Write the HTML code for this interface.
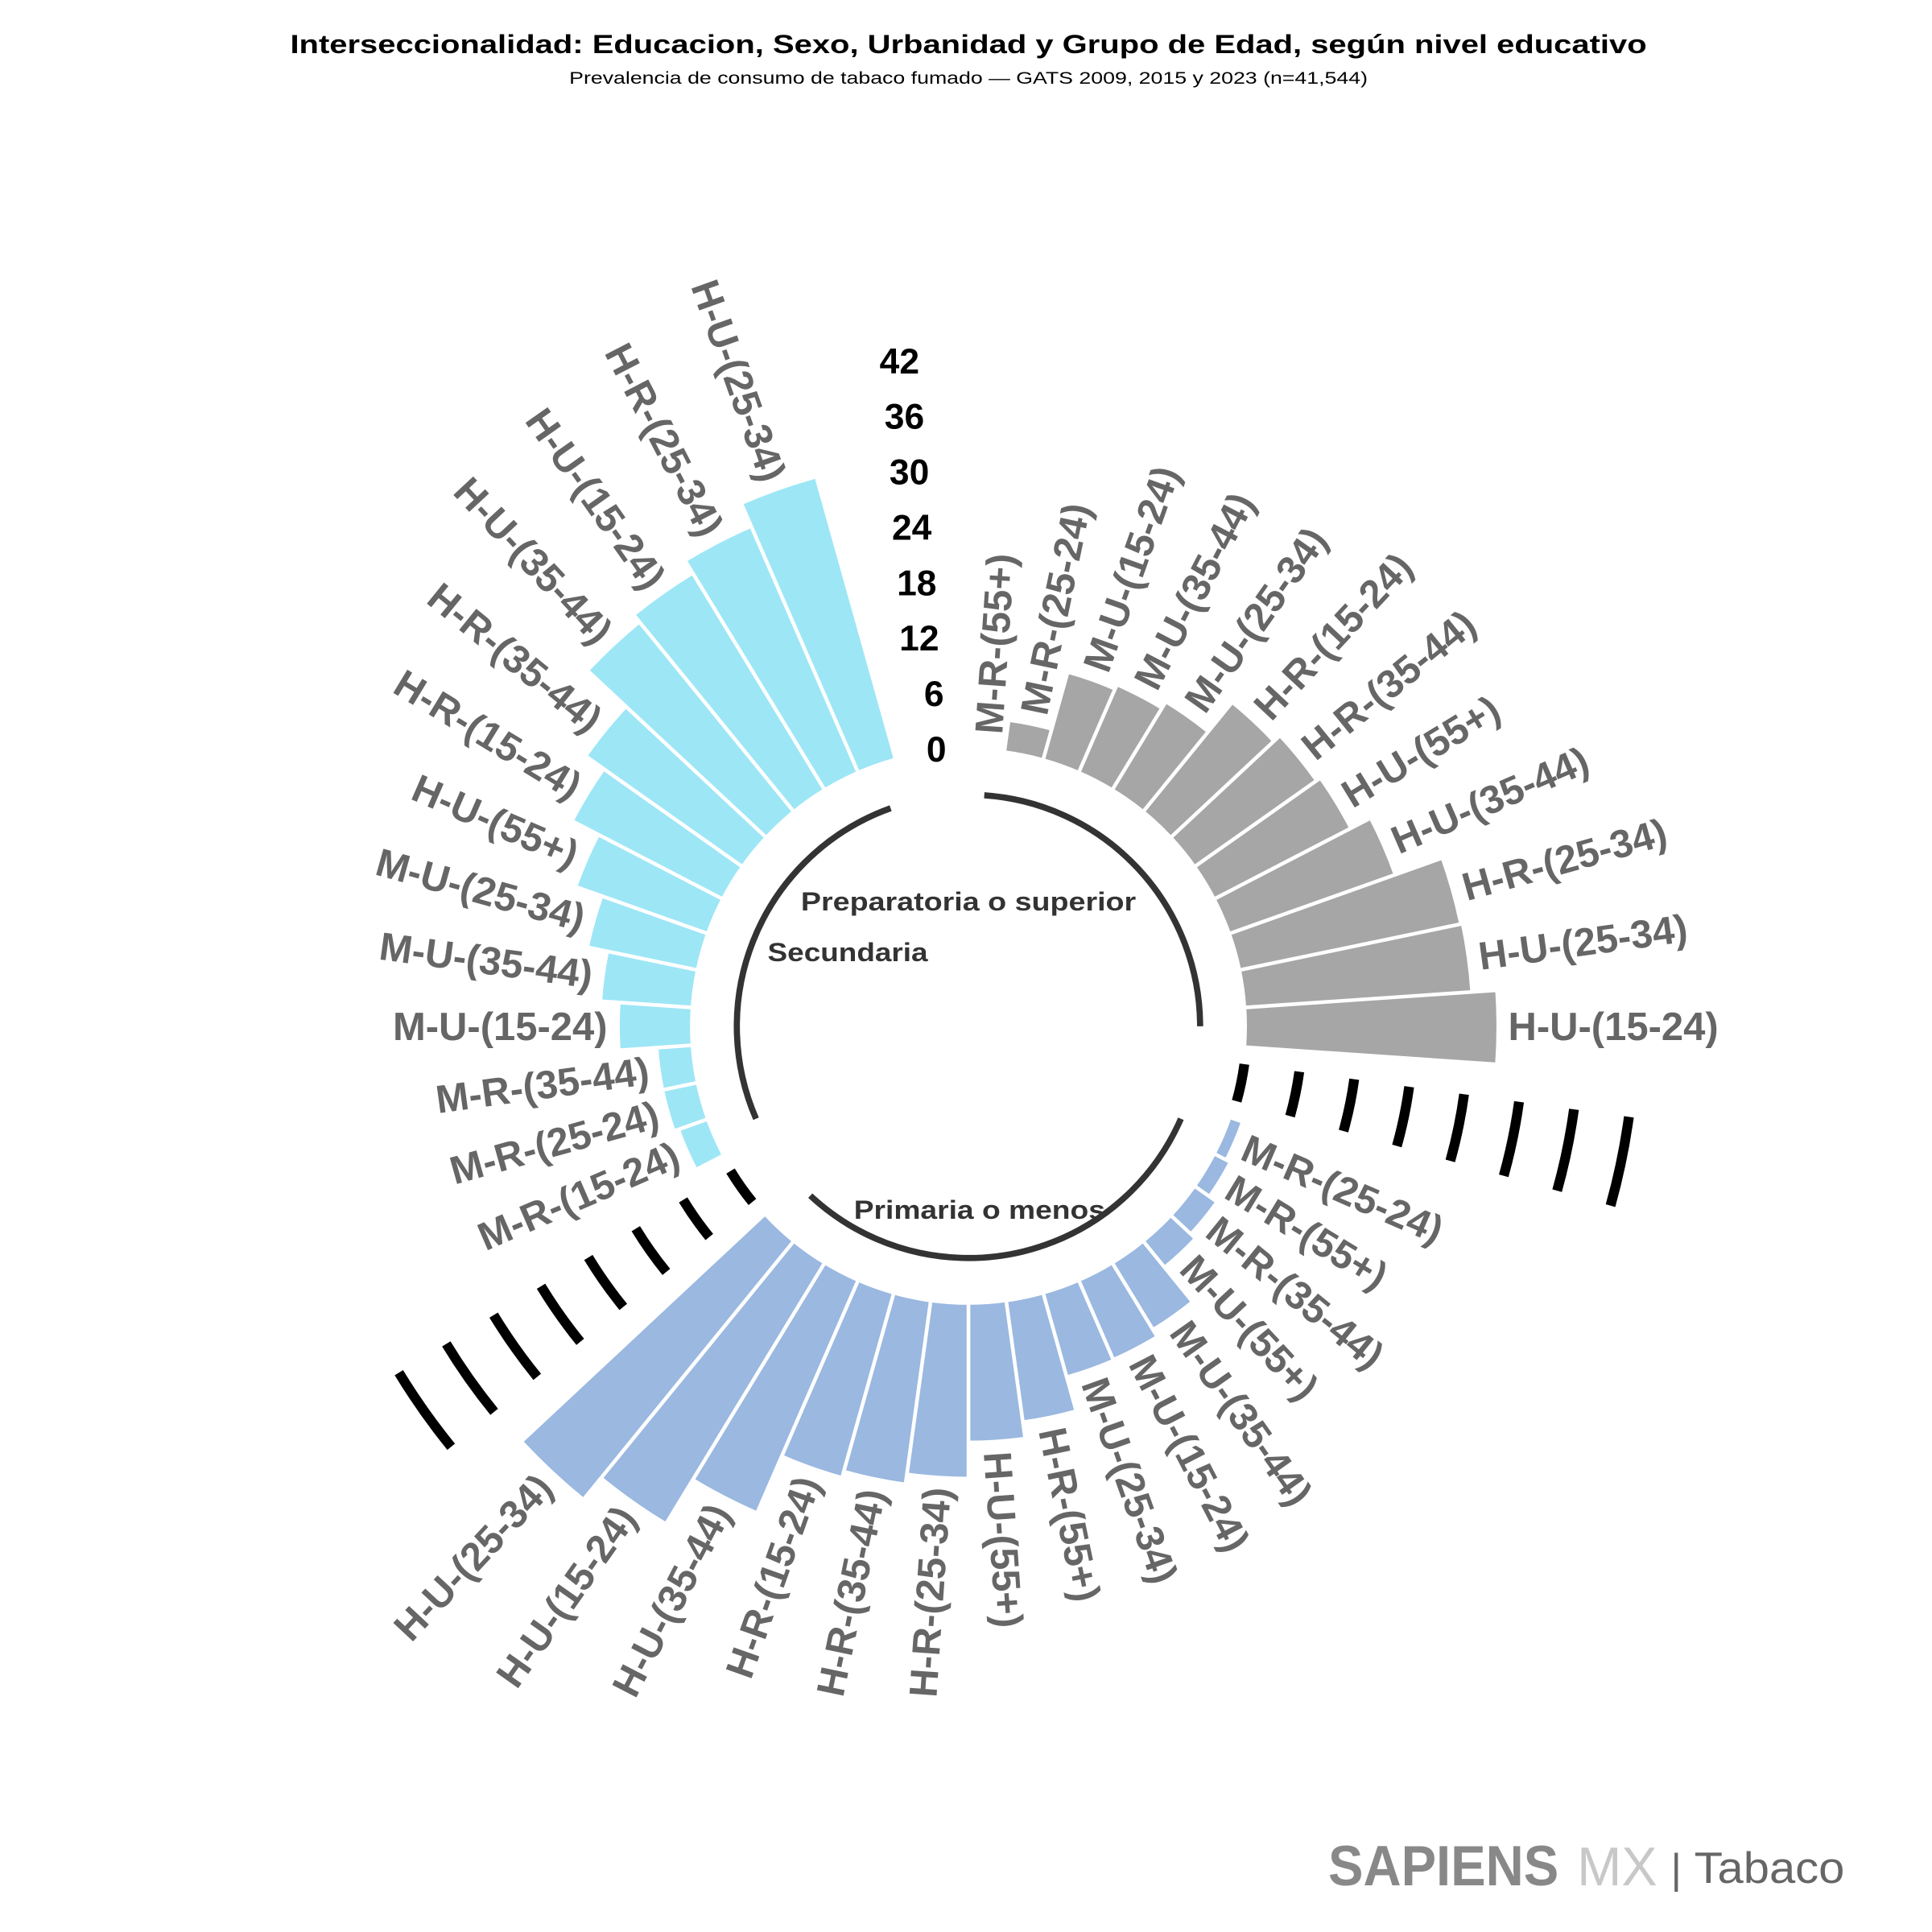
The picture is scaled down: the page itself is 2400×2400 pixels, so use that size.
<!DOCTYPE html>
<html><head><meta charset="utf-8"><style>
html,body{margin:0;padding:0;background:#fff}
svg{display:block}
text{font-family:"Liberation Sans",Arial,sans-serif}
.lab{font-size:32px;font-weight:bold;fill:#666}
.sc{font-size:29px;font-weight:bold;fill:#000}
.grp{font-size:21px;font-weight:bold;fill:#333}
</style></head><body>
<svg xmlns="http://www.w3.org/2000/svg" width="2400" height="2400" viewBox="0 0 1568 1568">
<rect width="1568" height="1568" fill="#fff"/>
<text x="786" y="43" text-anchor="middle" font-size="21" font-weight="bold" textLength="1101" lengthAdjust="spacingAndGlyphs">Interseccionalidad: Educacion, Sexo, Urbanidad y Grupo de Edad, según nivel educativo</text>
<text x="786" y="68" text-anchor="middle" font-size="14" textLength="648" lengthAdjust="spacingAndGlyphs">Prevalencia de consumo de tabaco fumado — GATS 2009, 2015 y 2023 (n=41,544)</text>

<g transform="translate(786,833)" fill="none">
<g stroke="#a6a6a6">
<circle r="237.6" stroke-width="23.25" pathLength="360" stroke-dasharray="7.826 400" transform="rotate(-82.17)"/>
<circle r="261.6" stroke-width="71.25" pathLength="360" stroke-dasharray="7.826 400" transform="rotate(-74.35)"/>
<circle r="263.5" stroke-width="75" pathLength="360" stroke-dasharray="7.826 400" transform="rotate(-66.52)"/>
<circle r="266.5" stroke-width="81" pathLength="360" stroke-dasharray="7.826 400" transform="rotate(-58.70)"/>
<circle r="281.9" stroke-width="111.75" pathLength="360" stroke-dasharray="7.826 400" transform="rotate(-50.87)"/>
<circle r="285.25" stroke-width="118.5" pathLength="360" stroke-dasharray="7.826 400" transform="rotate(-43.04)"/>
<circle r="287.1" stroke-width="122.25" pathLength="360" stroke-dasharray="7.826 400" transform="rotate(-35.22)"/>
<circle r="296.1" stroke-width="140.25" pathLength="360" stroke-dasharray="7.826 400" transform="rotate(-27.39)"/>
<circle r="316.4" stroke-width="180.75" pathLength="360" stroke-dasharray="7.826 400" transform="rotate(-19.57)"/>
<circle r="317.1" stroke-width="182.25" pathLength="360" stroke-dasharray="7.826 400" transform="rotate(-11.74)"/>
<circle r="327.25" stroke-width="202.5" pathLength="360" stroke-dasharray="7.826 400" transform="rotate(-3.91)"/>
</g>
<g stroke="#9ab8e0">
<circle r="230.1" stroke-width="8.25" pathLength="360" stroke-dasharray="7.826 400" transform="rotate(19.56)"/>
<circle r="232" stroke-width="12" pathLength="360" stroke-dasharray="7.826 400" transform="rotate(27.39)"/>
<circle r="235.75" stroke-width="19.5" pathLength="360" stroke-dasharray="7.826 400" transform="rotate(35.22)"/>
<circle r="238.4" stroke-width="24.75" pathLength="360" stroke-dasharray="7.826 400" transform="rotate(43.04)"/>
<circle r="256.4" stroke-width="60.75" pathLength="360" stroke-dasharray="7.826 400" transform="rotate(50.87)"/>
<circle r="259.75" stroke-width="67.5" pathLength="360" stroke-dasharray="7.826 400" transform="rotate(58.69)"/>
<circle r="260.1" stroke-width="68.25" pathLength="360" stroke-dasharray="7.826 400" transform="rotate(66.52)"/>
<circle r="274.4" stroke-width="96.75" pathLength="360" stroke-dasharray="7.826 400" transform="rotate(74.35)"/>
<circle r="281.1" stroke-width="110.25" pathLength="360" stroke-dasharray="7.826 400" transform="rotate(82.17)"/>
<circle r="295.75" stroke-width="139.5" pathLength="360" stroke-dasharray="7.826 400" transform="rotate(90)"/>
<circle r="299.9" stroke-width="147.75" pathLength="360" stroke-dasharray="7.826 400" transform="rotate(97.83)"/>
<circle r="302.5" stroke-width="153" pathLength="360" stroke-dasharray="7.826 400" transform="rotate(105.65)"/>
<circle r="327.6" stroke-width="203.25" pathLength="360" stroke-dasharray="7.826 400" transform="rotate(113.48)"/>
<circle r="348.6" stroke-width="245.25" pathLength="360" stroke-dasharray="7.826 400" transform="rotate(121.3)"/>
<circle r="359.9" stroke-width="267.75" pathLength="360" stroke-dasharray="7.826 400" transform="rotate(129.13)"/>
</g>
<g stroke="#9de6f6">
<circle r="237.25" stroke-width="22.5" pathLength="360" stroke-dasharray="7.826 400" transform="rotate(152.61)"/>
<circle r="239.1" stroke-width="26.25" pathLength="360" stroke-dasharray="7.826 400" transform="rotate(160.43)"/>
<circle r="239.1" stroke-width="26.25" pathLength="360" stroke-dasharray="7.826 400" transform="rotate(168.26)"/>
<circle r="254.5" stroke-width="57" pathLength="360" stroke-dasharray="7.826 400" transform="rotate(176.09)"/>
<circle r="262" stroke-width="72" pathLength="360" stroke-dasharray="7.826 400" transform="rotate(183.91)"/>
<circle r="270.25" stroke-width="88.5" pathLength="360" stroke-dasharray="7.826 400" transform="rotate(191.74)"/>
<circle r="281.5" stroke-width="111" pathLength="360" stroke-dasharray="7.826 400" transform="rotate(199.57)"/>
<circle r="293.5" stroke-width="135" pathLength="360" stroke-dasharray="7.826 400" transform="rotate(207.39)"/>
<circle r="302.5" stroke-width="153" pathLength="360" stroke-dasharray="7.826 400" transform="rotate(215.22)"/>
<circle r="323.9" stroke-width="195.75" pathLength="360" stroke-dasharray="7.826 400" transform="rotate(223.04)"/>
<circle r="327.6" stroke-width="203.25" pathLength="360" stroke-dasharray="7.826 400" transform="rotate(230.87)"/>
<circle r="333.6" stroke-width="215.25" pathLength="360" stroke-dasharray="7.826 400" transform="rotate(238.69)"/>
<circle r="343.75" stroke-width="235.5" pathLength="360" stroke-dasharray="7.826 400" transform="rotate(246.52)"/>
</g>
<g stroke="#fff" stroke-width="3">
<line x1="220" x2="560" transform="rotate(-74.35)"/>
<line x1="220" x2="560" transform="rotate(-66.52)"/><line x1="220" x2="560" transform="rotate(-58.70)"/>
<line x1="220" x2="560" transform="rotate(-50.87)"/><line x1="220" x2="560" transform="rotate(-43.04)"/>
<line x1="220" x2="560" transform="rotate(-35.22)"/><line x1="220" x2="560" transform="rotate(-27.39)"/>
<line x1="220" x2="560" transform="rotate(-19.57)"/><line x1="220" x2="560" transform="rotate(-11.74)"/>
<line x1="220" x2="560" transform="rotate(-3.91)"/>
<line x1="220" x2="600" transform="rotate(27.39)"/><line x1="220" x2="600" transform="rotate(35.22)"/>
<line x1="220" x2="600" transform="rotate(43.04)"/><line x1="220" x2="600" transform="rotate(50.87)"/>
<line x1="220" x2="600" transform="rotate(58.69)"/><line x1="220" x2="600" transform="rotate(66.52)"/>
<line x1="220" x2="600" transform="rotate(74.35)"/><line x1="220" x2="600" transform="rotate(82.17)"/>
<line x1="220" x2="600" transform="rotate(90)"/><line x1="220" x2="600" transform="rotate(97.83)"/>
<line x1="220" x2="600" transform="rotate(105.65)"/><line x1="220" x2="600" transform="rotate(113.48)"/>
<line x1="220" x2="600" transform="rotate(121.3)"/><line x1="220" x2="600" transform="rotate(129.13)"/>
<line x1="220" x2="600" transform="rotate(160.43)"/><line x1="220" x2="600" transform="rotate(168.26)"/>
<line x1="220" x2="600" transform="rotate(176.09)"/><line x1="220" x2="600" transform="rotate(183.91)"/>
<line x1="220" x2="600" transform="rotate(191.74)"/><line x1="220" x2="600" transform="rotate(199.57)"/>
<line x1="220" x2="600" transform="rotate(207.39)"/><line x1="220" x2="600" transform="rotate(215.22)"/>
<line x1="220" x2="600" transform="rotate(223.04)"/><line x1="220" x2="600" transform="rotate(230.87)"/>
<line x1="220" x2="600" transform="rotate(238.69)"/><line x1="220" x2="600" transform="rotate(246.52)"/>
</g>
<g stroke="#000" stroke-width="8">
<g transform="rotate(7.8)">
<circle r="226" pathLength="360" stroke-dasharray="7.8 400"/><circle r="271" pathLength="360" stroke-dasharray="7.8 400"/>
<circle r="316" pathLength="360" stroke-dasharray="7.8 400"/><circle r="361" pathLength="360" stroke-dasharray="7.8 400"/>
<circle r="406" pathLength="360" stroke-dasharray="7.8 400"/><circle r="451" pathLength="360" stroke-dasharray="7.8 400"/>
<circle r="496" pathLength="360" stroke-dasharray="7.8 400"/><circle r="541" pathLength="360" stroke-dasharray="7.8 400"/>
</g>
<g transform="rotate(140.9)">
<circle r="226" pathLength="360" stroke-dasharray="7.8 400"/><circle r="271" pathLength="360" stroke-dasharray="7.8 400"/>
<circle r="316" pathLength="360" stroke-dasharray="7.8 400"/><circle r="361" pathLength="360" stroke-dasharray="7.8 400"/>
<circle r="406" pathLength="360" stroke-dasharray="7.8 400"/><circle r="451" pathLength="360" stroke-dasharray="7.8 400"/>
<circle r="496" pathLength="360" stroke-dasharray="7.8 400"/><circle r="541" pathLength="360" stroke-dasharray="7.8 400"/>
</g>
</g>
<g stroke="#333" stroke-width="5">
<circle r="188" pathLength="360" stroke-dasharray="86.09 400" transform="rotate(-86.09)"/>
<circle r="188" pathLength="360" stroke-dasharray="109.6 400" transform="rotate(23.5)"/>
<circle r="188" pathLength="360" stroke-dasharray="93.9 400" transform="rotate(156.5)"/>
</g>
<g class="lab" fill="#666">
<text transform="rotate(-86.09)" x="238" dy="0.35em">M-R-(55+)</text>
<text transform="rotate(-78.26)" x="259" dy="0.35em">M-R-(25-24)</text>
<text transform="rotate(-70.43)" x="307" dy="0.35em">M-U-(15-24)</text>
<text transform="rotate(-62.61)" x="311" dy="0.35em">M-U-(35-44)</text>
<text transform="rotate(-54.78)" x="317" dy="0.35em">M-U-(25-34)</text>
<text transform="rotate(-46.96)" x="348" dy="0.35em">H-R-(15-24)</text>
<text transform="rotate(-39.13)" x="354" dy="0.35em">H-R-(35-44)</text>
<text transform="rotate(-31.31)" x="358" dy="0.35em">H-U-(55+)</text>
<text transform="rotate(-23.48)" x="376" dy="0.35em">H-U-(35-44)</text>
<text transform="rotate(-15.66)" x="417" dy="0.35em">H-R-(25-34)</text>
<text transform="rotate(-7.83)" x="418" dy="0.35em">H-U-(25-34)</text>
<text transform="rotate(0)" x="438" dy="0.35em">H-U-(15-24)</text>

<text transform="rotate(23.48)" x="244" dy="0.35em">M-R-(25-24)</text>
<text transform="rotate(31.30)" x="248" dy="0.35em">M-R-(55+)</text>
<text transform="rotate(39.13)" x="255" dy="0.35em">M-R-(35-44)</text>
<text transform="rotate(46.96)" x="261" dy="0.35em">M-U-(55+)</text>
<text transform="rotate(54.78)" x="297" dy="0.35em">M-U-(35-44)</text>
<text transform="rotate(62.61)" x="303" dy="0.35em">M-U-(15-24)</text>
<text transform="rotate(70.43)" x="304" dy="0.35em">M-U-(25-34)</text>
<text transform="rotate(78.26)" x="333" dy="0.35em">H-R-(55+)</text>
<text transform="rotate(86.09)" x="346" dy="0.35em">H-U-(55+)</text>
<text transform="rotate(273.91)" x="-375" dy="0.35em" text-anchor="end">H-R-(25-34)</text>
<text transform="rotate(281.74)" x="-384" dy="0.35em" text-anchor="end">H-R-(35-44)</text>
<text transform="rotate(289.56)" x="-389" dy="0.35em" text-anchor="end">H-R-(15-24)</text>
<text transform="rotate(297.39)" x="-439" dy="0.35em" text-anchor="end">H-U-(35-44)</text>
<text transform="rotate(305.22)" x="-481" dy="0.35em" text-anchor="end">H-U-(15-24)</text>
<text transform="rotate(313.04)" x="-504" dy="0.35em" text-anchor="end">H-U-(25-34)</text>

<text transform="rotate(336.52)" x="-258" dy="0.35em" text-anchor="end">M-R-(15-24)</text>
<text transform="rotate(344.35)" x="-262" dy="0.35em" text-anchor="end">M-R-(25-24)</text>
<text transform="rotate(352.17)" x="-262" dy="0.35em" text-anchor="end">M-R-(35-44)</text>
<text transform="rotate(360)" x="-293" dy="0.35em" text-anchor="end">M-U-(15-24)</text>
<text transform="rotate(7.83)" x="-308" dy="0.35em" text-anchor="end">M-U-(35-44)</text>
<text transform="rotate(15.65)" x="-324" dy="0.35em" text-anchor="end">M-U-(25-34)</text>
<text transform="rotate(23.48)" x="-347" dy="0.35em" text-anchor="end">H-U-(55+)</text>
<text transform="rotate(31.30)" x="-371" dy="0.35em" text-anchor="end">H-R-(15-24)</text>
<text transform="rotate(39.13)" x="-389" dy="0.35em" text-anchor="end">H-R-(35-44)</text>
<text transform="rotate(46.96)" x="-432" dy="0.35em" text-anchor="end">H-U-(35-44)</text>
<text transform="rotate(54.78)" x="-439" dy="0.35em" text-anchor="end">H-U-(15-24)</text>
<text transform="rotate(62.61)" x="-451" dy="0.35em" text-anchor="end">H-R-(25-34)</text>
<text transform="rotate(70.43)" x="-471" dy="0.35em" text-anchor="end">H-U-(25-34)</text>
</g>
</g>

<g class="sc" text-anchor="middle">
<text x="730" y="303">42</text>
<text x="734" y="348">36</text>
<text x="738" y="393">30</text>
<text x="740" y="438">24</text>
<text x="744" y="483">18</text>
<text x="746" y="528">12</text>
<text x="758" y="573">6</text>
<text x="760" y="618">0</text>
</g>

<text class="grp" x="650" y="739" textLength="272" lengthAdjust="spacingAndGlyphs">Preparatoria o superior</text>
<text class="grp" x="623" y="780" textLength="130" lengthAdjust="spacingAndGlyphs">Secundaria</text>
<text class="grp" x="693" y="989" textLength="204" lengthAdjust="spacingAndGlyphs">Primaria o menos</text>

<text x="1078" y="1530" font-size="46" font-weight="bold" fill="#888" textLength="187" lengthAdjust="spacingAndGlyphs">SAPIENS</text>
<text x="1280" y="1530" font-size="44" fill="#c8c8c8" textLength="65" lengthAdjust="spacingAndGlyphs">MX</text>
<text x="1356" y="1528" font-size="34" fill="#666">|</text>
<text x="1375" y="1528" font-size="36" fill="#666" textLength="122" lengthAdjust="spacingAndGlyphs">Tabaco</text>
</svg>
</body></html>
